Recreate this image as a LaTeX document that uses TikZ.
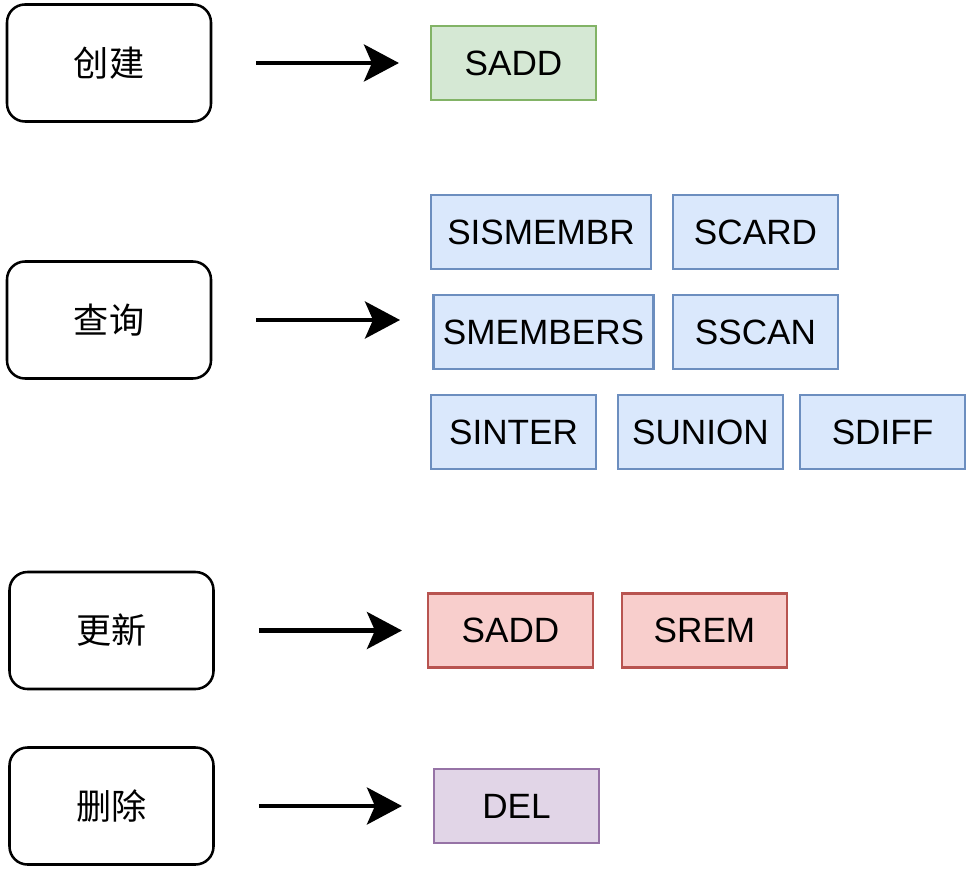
\documentclass[tikz,border=0pt]{standalone}
\usepackage{fontspec}
\setmainfont{Liberation Sans}
\newfontfamily\cjk{Noto Sans CJK SC}
\usepackage{tikz}
\usetikzlibrary{arrows.meta,positioning}

\definecolor{grnfill}{HTML}{D5E8D4}
\definecolor{grnline}{HTML}{82B366}
\definecolor{blufill}{HTML}{DAE8FC}
\definecolor{bluline}{HTML}{6C8EBF}
\definecolor{redfill}{HTML}{F8CECC}
\definecolor{redline}{HTML}{B85450}
\definecolor{purfill}{HTML}{E1D5E7}
\definecolor{purline}{HTML}{9673A6}

\begin{document}
\begin{tikzpicture}[
    op/.style={draw, line width=1.8pt, rounded corners=0.45cm, minimum width=5.1cm, minimum height=2.925cm, align=center, font=\cjk\fontsize{25}{30}\selectfont},
    cmd/.style={draw, line width=1.5pt, minimum width=4.125cm, minimum height=1.85cm, align=center, font=\fontsize{25}{30}\selectfont},
    wide/.style={cmd, minimum width=5.5cm},
    grn/.style={fill=grnfill, draw=grnline},
    blu/.style={fill=blufill, draw=bluline},
    red/.style={fill=redfill, draw=redline},
    pur/.style={fill=purfill, draw=purline},
    arr/.style={-{Stealth[length=0.875cm, width=0.925cm, inset=0.2cm]}, line width=3pt, shorten <=1.1cm}
]
\useasboundingbox (0,0) rectangle (24.225,-21.775);

\node[op] (C) at (2.725,-1.575) {创建};
\node[op] (Q) at (2.725,-8.0) {查询};
\node[op] (U) at (2.7875,-15.7625) {更新};
\node[op] (D) at (2.7875,-20.15) {删除};

\node[cmd, grn] (add) at (12.8375,-1.575) {SADD};

\node[wide, blu] (ismem) at (13.525,-5.8) {SISMEMBR};
\node[cmd, blu] (card) at (18.8875,-5.8) {SCARD};
\node[wide, blu] (mem) at (13.5875,-8.3) {SMEMBERS};
\node[cmd, blu] (scan) at (18.8875,-8.3) {SSCAN};
\node[cmd, blu] (inter) at (12.8375,-10.8) {SINTER};
\node[cmd, blu] (union) at (17.5125,-10.8) {SUNION};
\node[cmd, blu] (diff) at (22.0625,-10.8) {SDIFF};
\coordinate (qend) at (10,-8.0);

\node[cmd, red] (radd) at (12.7625,-15.7625) {SADD};
\node[cmd, red] (rem) at (17.6125,-15.7625) {SREM};

\node[cmd, pur] (del) at (12.9125,-20.15) {DEL};

\draw[arr, shorten >=0.775cm] (C) -- (add);
\draw[arr] (Q) -- (qend);
\draw[arr, shorten >=0.625cm] (U) -- (radd);
\draw[arr, shorten >=0.775cm] (D) -- (del);
\end{tikzpicture}
\end{document}
